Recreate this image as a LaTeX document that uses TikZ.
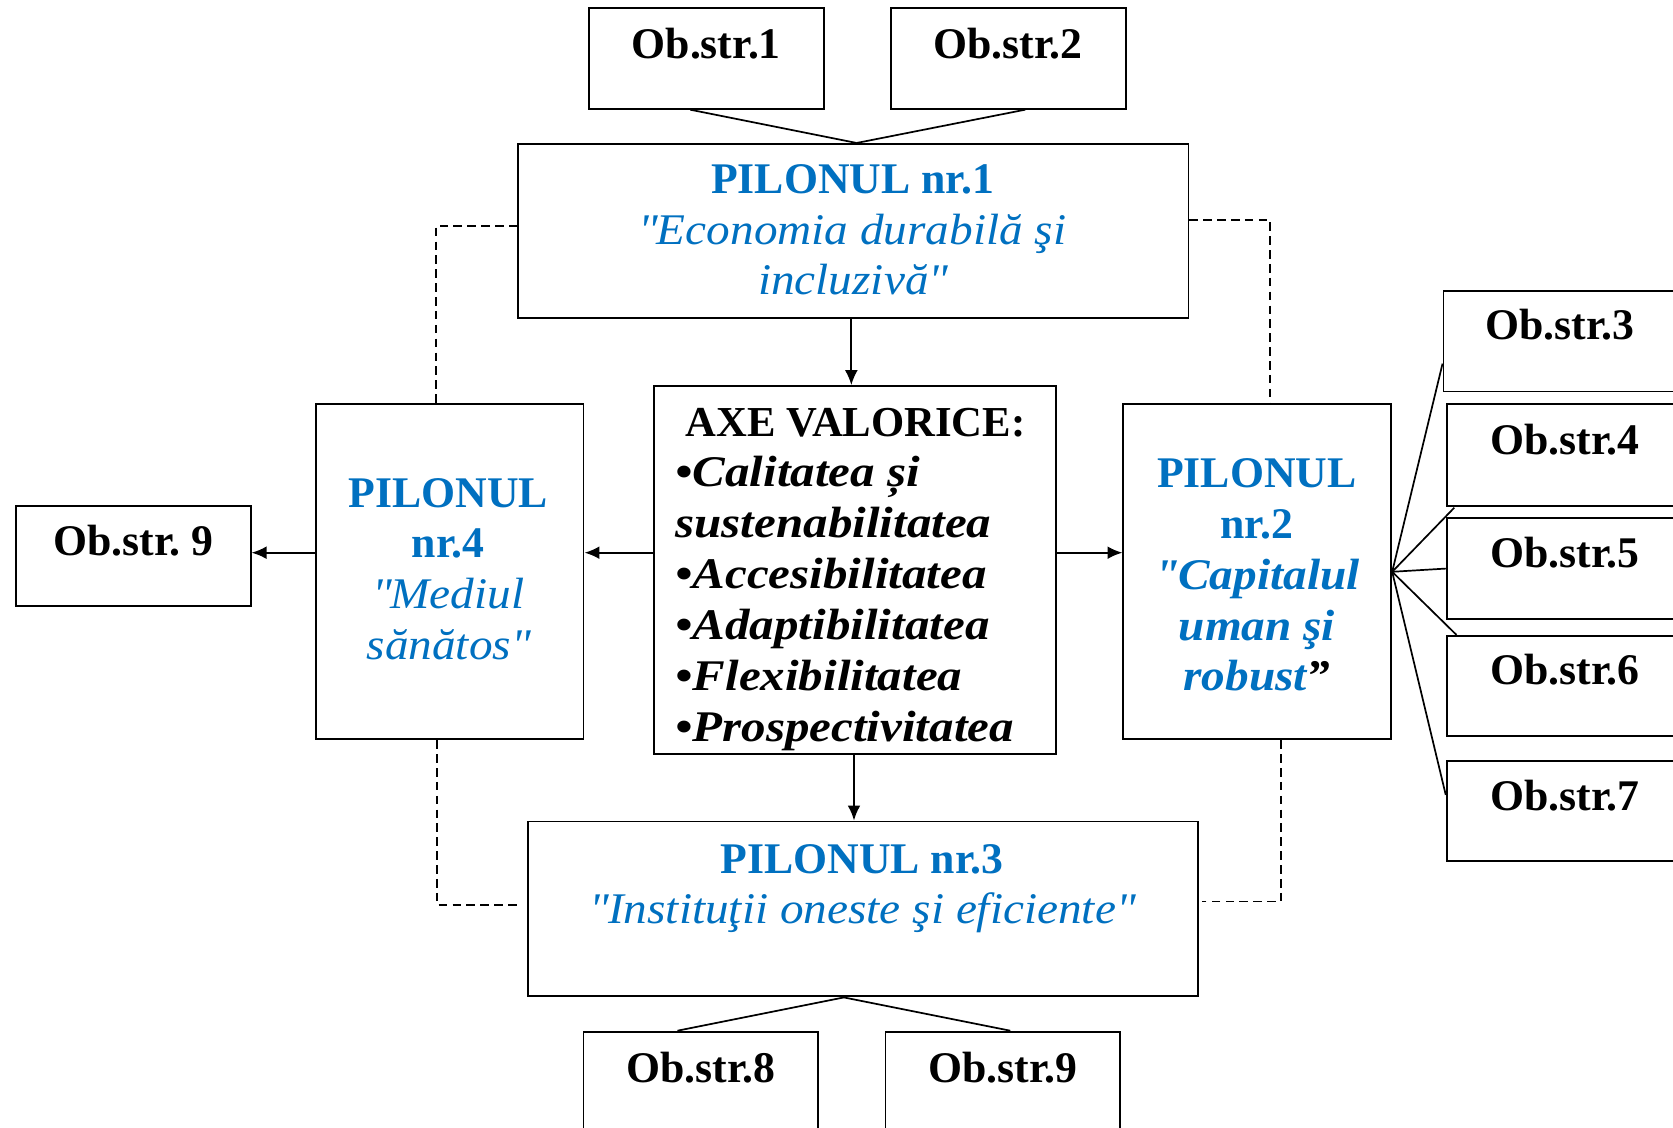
\documentclass[tikz,border=0pt]{standalone}
\usepackage{fontspec}
\setmainfont{Liberation Serif}
\newfontfamily\itA{Liberation Serif}[FakeStretch=1.08]
\newfontfamily\itB{Liberation Serif}[FakeStretch=1.12]
\newcommand\sq{\XeTeXglyph\XeTeXcharglyph"22\relax}
\usetikzlibrary{arrows.meta,calc}
\definecolor{pblue}{RGB}{0,112,192}
\tikzset{
  box/.style={draw, line width=1.8pt, inner sep=0pt, anchor=north west},
  conn/.style={line width=1.6pt},
  arr/.style={line width=1.8pt, -{Latex[length=14pt,width=12pt]}},
  dsh/.style={line width=1.5pt, dash pattern=on 8pt off 5pt},
  obt/.style={font=\fontsize{41}{47}\selectfont\bfseries, anchor=base, inner sep=0pt},
  ptxt/.style={text=pblue, align=center, anchor=north, inner sep=0pt, font=\fontsize{41}{47.6}\selectfont},
}
\begin{document}
\begin{tikzpicture}[x=1pt,y=-1pt]
\useasboundingbox (0,0) rectangle (1568,1057);
\fill[white] (0,0) rectangle (1568,1057);
\clip (0,0) rectangle (1568,1057);
% boxes
\node[box, minimum width=220pt, minimum height=94pt] (o1) at (551,7) {};
\node[box, minimum width=220pt, minimum height=94pt] (o2) at (834,7) {};
\node[box, minimum width=628pt, minimum height=163pt] (p1) at (485,134) {};
\node[box, minimum width=377pt, minimum height=345pt] (axe) at (612,361) {};
\node[box, minimum width=251pt, minimum height=314pt] (p4) at (295,378) {};
\node[box, minimum width=251pt, minimum height=314pt] (p2) at (1052,378) {};
\node[box, minimum width=220pt, minimum height=94pt] (o9l) at (14,473) {};
\node[box, minimum width=628pt, minimum height=164pt] (p3) at (494,769) {};
\node[box, minimum width=220pt, minimum height=130pt] (o8) at (546,966) {};
\node[box, minimum width=220pt, minimum height=130pt] (o9) at (829,966) {};
\node[box, minimum width=222pt, minimum height=94pt] (o3) at (1352,272) {};
\node[box, minimum width=222pt, minimum height=95pt] (o4) at (1355,378) {};
\node[box, minimum width=222pt, minimum height=94pt] (o5) at (1355,485) {};
\node[box, minimum width=222pt, minimum height=94pt] (o6) at (1355,595) {};
\node[box, minimum width=222pt, minimum height=94pt] (o7) at (1355,712) {};
% box texts
\node[obt] (t1) at ($(o1.north)+(0,48)$) {Ob.str.1};
\node[obt] (t2) at ($(o2.north)+(0,48)$) {Ob.str.2};
\node[obt] (t3) at ($(o3.north)+(-2,46)$) {Ob.str.3};
\node[obt] (t4) at ($(o4.north)+(0,48)$) {Ob.str.4};
\node[obt] (t5) at ($(o5.north)+(0,47)$) {Ob.str.5};
\node[obt] (t6) at ($(o6.north)+(0,47)$) {Ob.str.6};
\node[obt] (t7) at ($(o7.north)+(0,48)$) {Ob.str.7};
\node[obt] (t9l) at ($(o9l.north)+(0,48)$) {Ob.str.\ 9};
\node[obt] (t8) at ($(o8.north)+(0,49)$) {Ob.str.8};
\node[obt] (t9) at ($(o9.north)+(0,49)$) {Ob.str.9};
\node[ptxt] (tp1) at (799,141) {\rule{0pt}{40pt}\textbf{PILONUL nr.1}\\{\itA\itshape\sq Economia durabilă şi}\\{\itA\itshape incluzivă\sq}};
\node[ptxt] (tp4) at (420,435) {\rule{0pt}{40pt}\textbf{PILONUL}\\\textbf{nr.4}\\{\itA\itshape\sq Mediul}\\{\itA\itshape sănătos\sq}};
\node[ptxt] (tp2) at (1178,417) {\rule{0pt}{40pt}\textbf{PILONUL}\\\textbf{nr.2}\\{\itA\bfseries\itshape\sq Capitalul}\\{\itA\bfseries\itshape uman şi}\\{\itA\bfseries\itshape robust\textcolor{black}{”}}};
\node[ptxt] (tp3) at (808,778) {\rule{0pt}{40pt}\textbf{PILONUL nr.3}\\{\itA\itshape\sq Instituţii oneste şi eficiente\sq}};
\node[obt, font=\fontsize{40}{47}\selectfont\bfseries] (tax) at (802,409) {AXE VALORICE:};
\node[inner sep=0pt, anchor=north west, align=left, font=\fontsize{41}{47.8}\selectfont\itB\bfseries\itshape] (titems) at (633,416) {\rule{0pt}{40pt}•Calitatea și\\sustenabilitatea\\•Accesibilitatea\\•Adaptibilitatea\\•Flexibilitatea\\•Prospectivitatea};
% connectors
\draw[conn] ($(o1.south)+(-15,0)$) -- ($(p1.north)+(3,0)$);
\draw[conn] ($(o2.south)+(16,0)$) -- ($(p1.north)+(3,0)$);
\draw[arr] ($(p1.south)+(-2,0)$) -- ($(p1.south |- axe.north)+(-2,0)$);
\coordinate (mid) at (0,518);
\draw[arr] (axe.west |- mid) -- (p4.east |- mid);
\draw[arr] (p4.west |- mid) -- (o9l.east |- mid);
\draw[arr] (axe.east |- mid) -- (p2.west |- mid);
\draw[arr] ($(axe.south)+(-1,0)$) -- ($(axe.south |- p3.north)+(-1,0)$);
\draw[conn] ($(p3.south)+(-18,0)$) -- ($(o8.north)+(-22,0)$);
\draw[conn] ($(p3.south)+(-18,0)$) -- ($(o9.north)+(7,0)$);
\draw[conn] (p2.east) -- ($(o3.south west)+(0,-27)$);
\draw[conn] (p2.east) -- ($(o4.south west)+(8,1)$);
\draw[conn] (p2.east) -- (o5.west);
\draw[conn] (p2.east) -- ($(o6.north west)+(10,0)$);
\draw[conn] (p2.east) -- ($(o7.north west)+(0,33)$);
% dashed links
\draw[dsh] ($(p1.north west)+(0,78)$) -| ($(p4.north)+(-13,0)$);
\draw[dsh] ($(p1.north east)+(0,72)$) -| ($(p2.north)+(12,0)$);
\draw[dsh] ($(p4.south)+(-12,0)$) |- ($(p3.north west)+(-8,79)$);
\draw[dsh] ($(p2.south)+(22,0)$) |- ($(p3.north east)+(3,76)$);
\end{tikzpicture}
\end{document}
